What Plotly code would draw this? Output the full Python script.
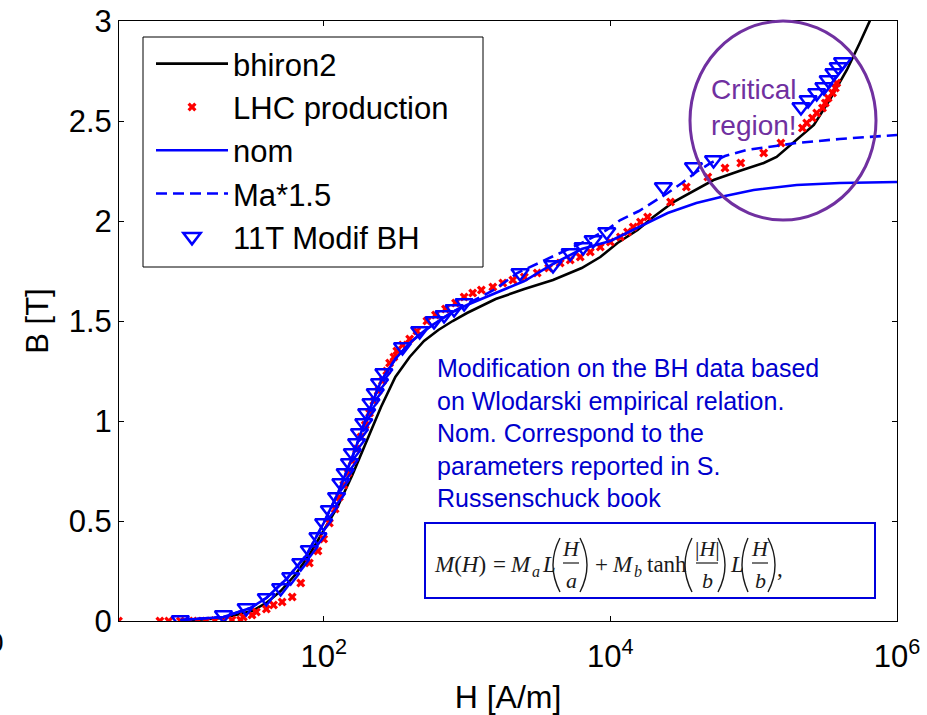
import plotly.graph_objects as go

# ---------------- data (H in A/m, B in T) ----------------
bhiron2_H = [10, 20, 31.6, 39.8, 50.1, 63.1, 79.4, 100, 125.9, 158.5, 199.5, 251.2,
             316.2, 398.1, 501.2, 631, 794.3, 1000, 1585, 2512, 3981, 6310, 8511,
             11220, 15490, 19950, 27540, 39810, 52480, 79430, 117500, 144500,
             199500, 263000, 338800, 446700, 549500, 645700, 707900]
bhiron2_B = [0.0, 0.015, 0.05, 0.09, 0.15, 0.23, 0.33, 0.45, 0.575, 0.73, 0.90, 1.07,
             1.22, 1.32, 1.40, 1.455, 1.50, 1.54, 1.61, 1.66, 1.705, 1.765, 1.82,
             1.89, 1.955, 2.02, 2.095, 2.16, 2.205, 2.25, 2.29, 2.32,
             2.405, 2.48, 2.605, 2.755, 2.89, 3.0, 3.08]

lhc_H = [3.7, 7.2, 8.3, 10, 11.5, 13.2, 15.1, 17.4, 20, 22.9, 26.3, 27.5, 31.6, 33.9,
         39.8, 44.7, 51.3, 60.3, 69.2, 79.4, 91.2, 100, 109.6, 120.2, 128.8, 138,
         147.9, 158.5, 169.8, 182, 195, 208.9, 223.9, 239.9, 257, 275.4, 288.4, 309,
         323.6, 354.8, 398.1, 446.7, 524.8, 602.6, 707.9, 831.8, 955, 1096, 1259,
         1514, 1778, 2089, 2512, 3090, 3715, 4467, 5248, 6166, 7244, 8511, 10000,
         11750, 13180, 14450, 16220, 18200, 26300, 33880, 47860, 63100, 81280,
         117500, 154900, 218800, 234400, 257000, 275400, 302000, 316200, 331100,
         354800, 371500, 380200]
lhc_B = [0.0, 0.0, 0.0, 0.0, 0.0, 0.0, 0.0, 0.003, 0.0, 0.005, 0.005, 0.02, 0.03, 0.045,
         0.06, 0.08, 0.095, 0.12, 0.19, 0.29, 0.35, 0.41, 0.49, 0.56, 0.62, 0.68,
         0.74, 0.80, 0.86, 0.92, 0.98, 1.04, 1.10, 1.15, 1.20, 1.25, 1.29, 1.32,
         1.35, 1.38, 1.41, 1.45, 1.50, 1.53, 1.56, 1.59, 1.62, 1.64, 1.655,
         1.67, 1.69, 1.705, 1.72, 1.74, 1.765, 1.79, 1.805, 1.82, 1.845, 1.87, 1.895,
         1.92, 1.945, 1.97, 1.995, 2.02, 2.095, 2.17, 2.22, 2.265, 2.29,
         2.34, 2.39, 2.465, 2.49, 2.515, 2.54, 2.565, 2.59, 2.615,
         2.64, 2.665, 2.69]

nom_H = [10, 20, 30.9, 39.8, 55, 75.9, 100, 125.9, 158.5, 199.5, 251.2, 316.2, 398.1,
         501.2, 631, 794.3, 1000, 1585, 2512, 3981, 6310, 10000, 15850, 25120,
         39810, 63100, 100000, 199500, 398100, 1000000]
nom_B = [0.005, 0.02, 0.065, 0.115, 0.21, 0.33, 0.49, 0.64, 0.82, 1.02, 1.20, 1.31,
         1.39, 1.45, 1.50, 1.545, 1.58, 1.64, 1.70, 1.785, 1.86, 1.90, 1.97, 2.04,
         2.09, 2.125, 2.155, 2.18, 2.19, 2.195]

ma15_H = [10, 20, 30.9, 39.8, 55, 75.9, 100, 125.9, 158.5, 199.5, 251.2, 316.2, 398.1,
          501.2, 631, 794.3, 1000, 1585, 2239, 3162, 4467, 6310, 9441, 11750,
          15850, 25120, 31620, 39810, 50120, 63100, 89130, 125900, 199500, 398100,
          1000000]
ma15_B = [0.005, 0.02, 0.065, 0.115, 0.21, 0.33, 0.49, 0.64, 0.82, 1.02, 1.20, 1.31,
          1.39, 1.45, 1.50, 1.545, 1.585, 1.66, 1.74, 1.79, 1.84, 1.89, 1.955, 2.005,
          2.05, 2.14, 2.19, 2.245, 2.29, 2.325, 2.355, 2.37, 2.39, 2.41, 2.43]

mod11t_H = [10, 20, 28.8, 39.8, 50.1, 58.9, 69.2, 79.4, 91.2, 100, 109.6, 123, 131.8,
            141.3, 151.4, 158.5, 169.8, 177.8, 190.5, 199.5, 213.8, 229.1, 245.5,
            263, 354.8, 467.7, 588.8, 691.8, 812.8, 955, 2344, 3981, 5248, 6457,
            7586, 9441, 23440, 38020, 52480, 213800, 239900, 275400, 309000,
            331100, 363100, 389000, 416900]
mod11t_B = [0.005, 0.03, 0.065, 0.115, 0.165, 0.22, 0.29, 0.355, 0.42, 0.49, 0.555,
            0.62, 0.69, 0.74, 0.79, 0.84, 0.89, 0.94, 0.99, 1.04, 1.09, 1.14, 1.19,
            1.24, 1.37, 1.45, 1.50, 1.53, 1.56, 1.59, 1.74, 1.78, 1.84, 1.87,
            1.905, 1.945, 2.17, 2.27, 2.305, 2.57, 2.605, 2.64, 2.67,
            2.705, 2.74, 2.77, 2.795]

x_tickvals = [1e2, 1e4, 1e6]
x_ticktext = ["10<sup>2</sup>", "10<sup>4</sup>", "10<sup>6</sup>"]

note_lines = ["Modification on the BH data based",
              "on Wlodarski empirical relation.",
              "Nom. Correspond to the",
              "parameters reported in S.",
              "Russenschuck book"]

# ---------------- figure ----------------
W, H = 927, 715
PL, PR, PT, PB = 119, 897, 21, 621


def fx(px):
    return (px - PL) / (PR - PL)


def fy(py):
    return (PB - py) / (PB - PT)


SANS = "Arial, Liberation Sans, sans-serif"
SERIF = "Times New Roman, Liberation Serif, serif"
BLUE = "rgb(0,0,255)"
NOTE_BLUE = "rgb(0,0,205)"
PURPLE = "#7030A0"

fig = go.Figure()
fig.add_trace(go.Scatter(x=bhiron2_H, y=bhiron2_B, mode="lines", name="bhiron2",
                         line=dict(color="black", width=2.6)))
fig.add_trace(go.Scatter(x=lhc_H, y=lhc_B, mode="markers", name="LHC production",
                         marker=dict(symbol="x", color="red", size=8,
                                     line=dict(width=0))))
fig.add_trace(go.Scatter(x=nom_H, y=nom_B, mode="lines", name="nom",
                         line=dict(color=BLUE, width=2.6)))
fig.add_trace(go.Scatter(x=ma15_H, y=ma15_B, mode="lines", name="Ma*1.5",
                         line=dict(color=BLUE, width=2.6, dash="11px,6px")))
fig.add_trace(go.Scatter(x=mod11t_H, y=mod11t_B, mode="markers", name="11T Modif BH",
                         marker=dict(symbol="triangle-down-open", color=BLUE, size=15,
                                     line=dict(width=2.5, color=BLUE))))

axis_common = dict(showline=True, linecolor="black", linewidth=1, mirror="ticks",
                   ticks="inside", ticklen=5, tickcolor="black", showgrid=False,
                   zeroline=False, tickfont=dict(family=SANS, size=31, color="black"))

fig.update_xaxes(type="log", range=[0.572, 6], tickvals=x_tickvals, ticktext=x_ticktext,
                 ticklabelstandoff=8,
                 title=dict(text="H [A/m]", font=dict(family=SANS, size=32, color="black"),
                            standoff=12),
                 **axis_common)
fig.update_yaxes(range=[0, 3], dtick=0.5,
                 title=dict(text="B [T]", font=dict(family=SANS, size=31, color="black"),
                            standoff=10),
                 **axis_common)

shapes = []
annotations = []

# legend frame (the legend itself is drawn transparent on top of it)
shapes.append(dict(type="rect", xref="paper", yref="paper",
                   x0=fx(143), x1=fx(483), y0=fy(267), y1=fy(37),
                   line=dict(color="black", width=1), fillcolor="white",
                   layer="above"))

# critical region ellipse and label
shapes.append(dict(type="circle", xref="paper", yref="paper",
                   x0=fx(690), x1=fx(876), y0=fy(220), y1=fy(21),
                   line=dict(color=PURPLE, width=3)))
annotations.append(dict(xref="paper", yref="paper", x=fx(709), y=fy(72),
                        xanchor="left", yanchor="top", align="left", showarrow=False,
                        text="Critical<br>region!",
                        font=dict(family=SANS, size=28, color=PURPLE)))

# explanatory note
annotations.append(dict(xref="paper", yref="paper", x=fx(435), y=fy(352),
                        xanchor="left", yanchor="top", align="left", showarrow=False,
                        text="<br>".join(note_lines),
                        font=dict(family=SANS, size=25, color=NOTE_BLUE)))

# formula box
shapes.append(dict(type="rect", xref="paper", yref="paper",
                   x0=fx(425), x1=fx(875), y0=fy(598), y1=fy(523),
                   line=dict(color="rgb(0,0,220)", width=2), fillcolor="white",
                   layer="above"))

FC = "#1a1a1a"


def ftext(px, py, txt, size=23, anchor="left"):
    annotations.append(dict(xref="paper", yref="paper", x=fx(px), y=fy(py),
                            xanchor=anchor, yanchor="middle", showarrow=False,
                            text=txt, borderpad=0,
                            font=dict(family=SERIF, size=size, color=FC)))


def paren(x_end, x_peak, ytop=538, ybot=592):
    cx = 2 * x_peak - x_end
    path = (f"M {fx(x_end)},{fy(ytop)} Q {fx(cx)},{fy((ytop + ybot) / 2)} "
            f"{fx(x_end)},{fy(ybot)}")
    shapes.append(dict(type="path", xref="paper", yref="paper", path=path,
                       line=dict(color=FC, width=1.4)))


def frac(cx, num, den, half):
    ftext(cx, 548, num, size=22, anchor="center")
    ftext(cx, 580, den, size=22, anchor="center")
    shapes.append(dict(type="line", xref="paper", yref="paper",
                       x0=fx(cx - half), x1=fx(cx + half), y0=fy(563), y1=fy(563),
                       line=dict(color=FC, width=1.2)))


MY = 564
ftext(433, MY, "<i>M</i>(<i>H</i>)")
ftext(499, MY, "=", anchor="center")
ftext(509, MY, "<i>M</i>")
ftext(531, MY + 7, "<i>a</i>", size=16)
ftext(541, MY, "<i>L</i>")
paren(560, 553)
frac(571, "<i>H</i>", "<i>a</i>", 8)
paren(580, 587)
ftext(601, MY, "+", anchor="center")
ftext(611, MY, "<i>M</i>")
ftext(633, MY + 7, "<i>b</i>", size=16)
ftext(646, MY, "tanh")
paren(692, 685)
frac(707, "|<i>H</i>|", "<i>b</i>", 11)
paren(718, 725)
ftext(729, MY, "<i>L</i>")
paren(748, 742)
frac(760, "<i>H</i>", "<i>b</i>", 8)
paren(768, 775)
ftext(776, MY + 4, ",")

# clipped tick-label remnant at the far left edge
annotations.append(dict(xref="paper", yref="paper", x=fx(-4), y=fy(642),
                        xanchor="center", yanchor="middle", showarrow=False,
                        text="0", font=dict(family=SANS, size=28, color="black")))

fig.update_layout(
    width=W, height=H,
    margin=dict(l=PL, r=W - PR, t=PT, b=H - PB, autoexpand=False),
    paper_bgcolor="white", plot_bgcolor="white",
    font=dict(family=SANS, color="black"),
    showlegend=True,
    legend=dict(x=fx(143), y=fy(37), xanchor="left", yanchor="top",
                bgcolor="rgba(0,0,0,0)", borderwidth=0,
                font=dict(family=SANS, size=31, color="black"),
                itemwidth=72, indentation=8, tracegroupgap=0),
    shapes=shapes, annotations=annotations,
)

fig.write_html("out.html")
